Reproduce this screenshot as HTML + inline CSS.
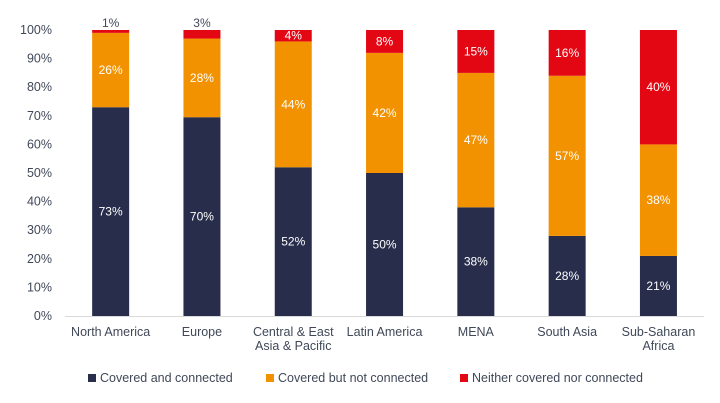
<!DOCTYPE html>
<html><head><meta charset="utf-8"><style>
body{margin:0;background:#fff;}
svg{display:block;font-family:"Liberation Sans",sans-serif;}
</style></head><body>
<svg id="chart" width="720" height="403"></svg>
<script>
const categories=[["North America"],["Europe"],["Central & East","Asia & Pacific"],["Latin America"],["MENA"],["South Asia"],["Sub-Saharan","Africa"]];
const connected=[73,69.5,52,50,38,28,21];
const notConnected=[26,27.5,44,42,47,56,39];
const neither=[1,3,4,8,15,16,40];
const connectedLabels=["73%","70%","52%","50%","38%","28%","21%"];
const notConnectedLabels=["26%","28%","44%","42%","47%","57%","38%"];
const neitherLabels=["1%","3%","4%","8%","15%","16%","40%"];
const yTicks=[0,10,20,30,40,50,60,70,80,90,100];
const seriesNames=["Covered and connected","Covered but not connected","Neither covered nor connected"];
const colors=["#272d4b","#f39200","#e30613"];

const svg=document.getElementById('chart');
const NS="http://www.w3.org/2000/svg";
const y0=316,y1=30,left=65,step=91.3,bw=37;
const y=v=>y0-(v/100)*(y0-y1);
const xc=i=>left+step*(i+0.5);
function mk(t,a,txt){const e=document.createElementNS(NS,t);for(const k in a)e.setAttribute(k,a[k]);if(txt!=null)e.textContent=txt;svg.appendChild(e);return e;}

yTicks.forEach(t=>{
  const e=mk('text',{x:52,y:y(t)+4,'text-anchor':'end','font-size':12.5,fill:'#404858'},t+'%');
  
  
});
const base=mk('line',{x1:left,x2:left+step*7,y1:y0+0.5,y2:y0+0.5,stroke:'#d9d9d9'});



const series=[connected,notConnected,neither];
const labels=[connectedLabels,notConnectedLabels,neitherLabels];
categories.forEach((c,i)=>{
  let acc=0;
  series.forEach((s,k)=>{
    const v=s[i];
    const r=mk('rect',{x:xc(i)-bw/2,y:y(acc+v),width:bw,height:y(acc)-y(acc+v),fill:colors[k]});
    
    
    let ly=(y(acc)+y(acc+v))/2+4, fill='#fff';
    if(k===2&&v<=3){ly=y(acc+v)-3;fill='#404858';}
    const t=mk('text',{x:xc(i),y:ly,'text-anchor':'middle','font-size':12,fill:fill},labels[k][i]);
    
    
    acc+=v;
  });
  c.forEach((line,j)=>{
    const t=mk('text',{x:xc(i),y:336+j*14,'text-anchor':'middle','font-size':12.5,fill:'#404858'},line);
    
    
  });
});
const lx=[88,266,460];
seriesNames.forEach((n,k)=>{
  const r=mk('rect',{x:lx[k],y:374,width:8,height:8,fill:colors[k]});
  
  
  const t=mk('text',{x:lx[k]+12,y:382,'font-size':12.5,fill:'#404858'},n);
  
  
});
</script>
</body></html>
